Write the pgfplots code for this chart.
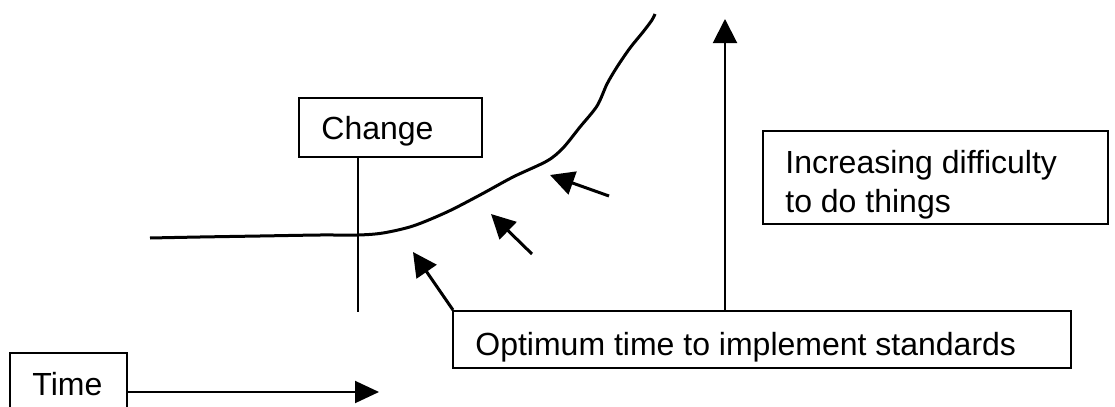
\documentclass[border=0pt]{standalone}
\usepackage{pgfplots}
\pgfplotsset{compat=1.18}
\usepackage{fontspec}
\setmainfont{Liberation Sans}
\usetikzlibrary{arrows.meta}
\begin{document}
\begin{tikzpicture}
\begin{axis}[name=ax, at={(0,0)}, anchor=south west,
  width=557.5pt, height=203.5pt, scale only axis,
  xmin=0, xmax=1115, ymin=0, ymax=407, y dir=reverse,
  hide axis, clip=false]
\fontsize{16}{19.5}\selectfont
% curve of difficulty
\addplot[black, line width=1.5pt, smooth, tension=0.5] coordinates {
 (150,238) (200,237) (260,236) (320,235) (358,235) (383,233) (413,226)
 (447,212) (480,195) (513,177) (547,161) (563,148) (580,127) (597,106)
 (607,84) (617,67) (630,48) (643,32) (652,20) (655,14)};
% change line
\addplot[black, line width=1pt] coordinates {(358,157) (358,312)};
% arrows pointing at the curve
\addplot[black, line width=1.5pt, -{Triangle[length=12pt,width=12pt]}] coordinates {(453,310) (413,252)};
\addplot[black, line width=1.5pt, -{Triangle[length=12pt,width=12pt]}] coordinates {(532,254) (491,214)};
\addplot[black, line width=1.5pt, -{Triangle[length=12pt,width=12pt]}] coordinates {(609,196) (550,175)};
% vertical difficulty arrow
\addplot[black, line width=1pt, -{Triangle[length=12pt,width=12pt]}] coordinates {(725,311) (725,19)};
% time arrow
\addplot[black, line width=1pt, -{Triangle[length=12pt,width=11pt]}] coordinates {(127,392) (379,392)};
% boxes
\draw[line width=1pt] (299,98) rectangle (482,157);
\draw[line width=1pt] (763,131) rectangle (1108,224);
\draw[line width=1pt] (453,311) rectangle (1071,368);
\draw[line width=1pt] (10,353) rectangle (127,412);
% texts
\node[anchor=base west, inner sep=0pt] at (321,139) {Change};
\node[anchor=base west, inner sep=0pt] at (785,173) {Increasing difficulty};
\node[anchor=base west, inner sep=0pt] at (785,212) {to do things};
\node[anchor=base west, inner sep=0pt] at (475,355) {Optimum time to implement standards};
\node[anchor=base west, inner sep=0pt] at (32,395) {Time};
\end{axis}
\pgfresetboundingbox
\path (ax.south west) rectangle (ax.north east);
\end{tikzpicture}
\end{document}
